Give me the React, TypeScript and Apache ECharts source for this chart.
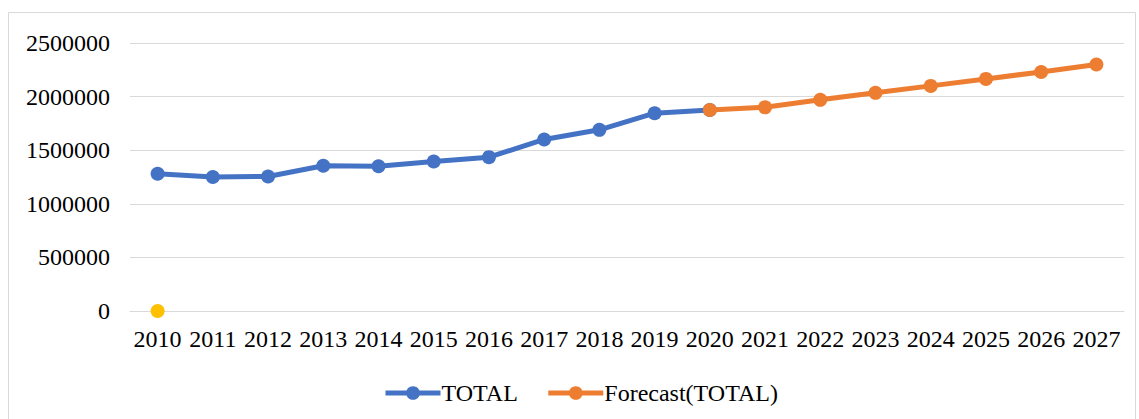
import React, { useEffect, useRef } from "react";
import * as echarts from "echarts";

const years = ["2010","2011","2012","2013","2014","2015","2016","2017","2018","2019","2020","2021","2022","2023","2024","2025","2026","2027"];
const total = [1280000,1250000,1255000,1355000,1350000,1395000,1435000,1600000,1690000,1845000,1875000,null,null,null,null,null,null,null];
const forecast = [null,null,null,null,null,null,null,null,null,null,1875000,1900000,1970000,2035000,2100000,2165000,2230000,2300000];
const marker = [0,null,null,null,null,null,null,null,null,null,null,null,null,null,null,null,null,null];
const yTicks = [0, 500000, 1000000, 1500000, 2000000, 2500000];

export default function App() {
  const ref = useRef<HTMLDivElement>(null);
  useEffect(() => {
    if (!ref.current) return;
    const chart = echarts.init(ref.current, null, { renderer: "svg" });
    const font = "Liberation Serif";
    chart.setOption({
      animation: false,
      backgroundColor: "#fff",
      textStyle: { fontFamily: font },
      graphic: [
        { type: "rect", shape: { x: 8.5, y: 12.5, width: 1127, height: 430 }, style: { fill: "none", stroke: "#D9D9D9", lineWidth: 1 }, silent: true, z: -1 }
      ],
      grid: { left: 130, right: 15, top: 43, bottom: 108 },
      legend: {
        data: ["TOTAL", "Forecast(TOTAL)"],
        top: 376,
        left: 378,
        itemWidth: 55,
        itemHeight: 17,
        itemGap: 28,
        lineStyle: { width: 5 },
        textStyle: { fontFamily: font, fontSize: 24, color: "#000", padding: [0, 0, 0, -4] },
      },
      xAxis: {
        type: "category",
        data: years,
        boundaryGap: true,
        axisLine: { lineStyle: { color: "#D9D9D9", width: 1 } },
        axisTick: { show: false },
        axisLabel: { fontFamily: font, fontSize: 24, color: "#000", margin: 16, interval: 0 },
      },
      yAxis: {
        type: "value",
        min: 0,
        max: yTicks[yTicks.length - 1],
        interval: 500000,
        axisLine: { show: false },
        axisTick: { show: false },
        splitLine: { lineStyle: { color: "#D9D9D9", width: 1 } },
        axisLabel: { fontFamily: font, fontSize: 24, color: "#000", margin: 20, formatter: (v: number) => String(v) },
      },
      series: [
        {
          name: "TOTAL", type: "line", data: total, symbol: "circle", symbolSize: 14,
          lineStyle: { color: "#4472C4", width: 5 }, itemStyle: { color: "#4472C4" }, z: 2,
        },
        {
          name: "Forecast(TOTAL)", type: "line", data: forecast, symbol: "circle", symbolSize: 14,
          lineStyle: { color: "#ED7D31", width: 5 }, itemStyle: { color: "#ED7D31" }, z: 3,
        },
        {
          name: "Marker", type: "line", data: marker, symbol: "circle", symbolSize: 14,
          lineStyle: { color: "#FFC000", width: 5 }, itemStyle: { color: "#FFC000" }, z: 4,
        },
      ],
    });
    return () => chart.dispose();
  }, []);
  return <div ref={ref} style={{ position: "absolute", left: 0, top: 0, width: 1139, height: 419 }} />;
}
